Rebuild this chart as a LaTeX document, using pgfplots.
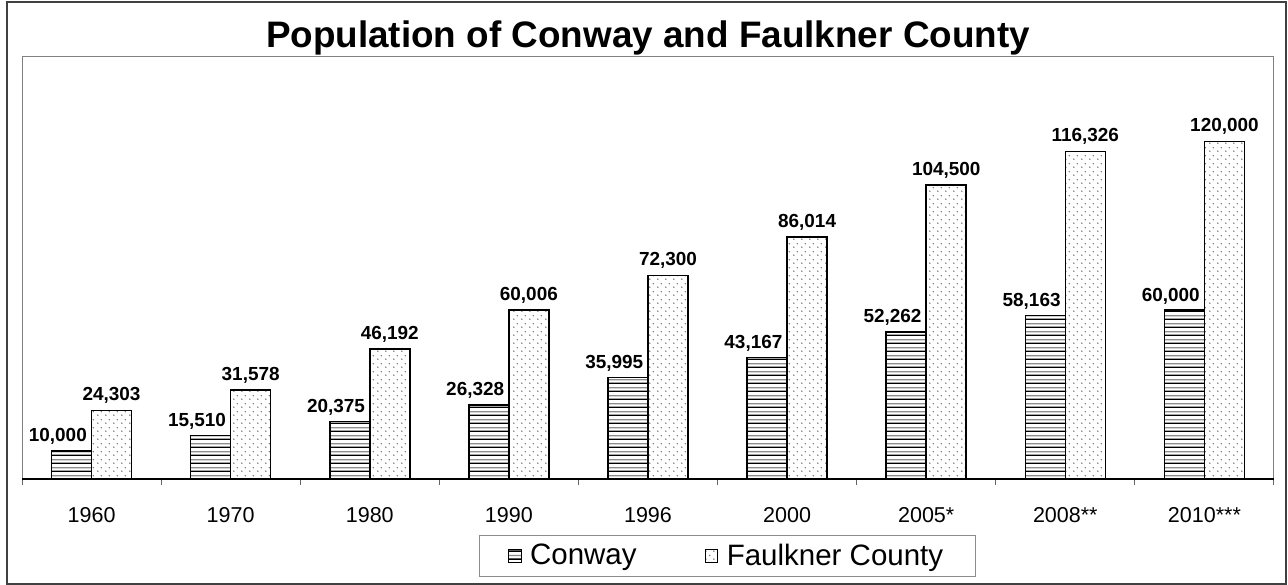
\documentclass[border=0pt]{standalone}
\usepackage{pgfplots}
\pgfplotsset{compat=1.18}
\usepackage{fontspec}
\setmainfont{Liberation Sans}
\usetikzlibrary{patterns}

\pgfdeclarepatterninherentlycolored{hstripes}{\pgfqpoint{0bp}{0bp}}{\pgfqpoint{4bp}{4bp}}{\pgfqpoint{4bp}{4bp}}{%
  \pgfsetlinewidth{0.7bp}%
  \pgfsetstrokecolor{black}%
  \pgfpathmoveto{\pgfqpoint{-0.1bp}{1bp}}\pgfpathlineto{\pgfqpoint{4.1bp}{1bp}}\pgfusepath{stroke}%
  \pgfsetstrokecolor{black!45}%
  \pgfpathmoveto{\pgfqpoint{-0.1bp}{3bp}}\pgfpathlineto{\pgfqpoint{4.1bp}{3bp}}\pgfusepath{stroke}%
}
\pgfdeclarepatterninherentlycolored{gdots}{\pgfqpoint{0bp}{0bp}}{\pgfqpoint{4bp}{4bp}}{\pgfqpoint{4bp}{4bp}}{%
  \pgfsetfillcolor{black!55}%
  \pgfpathcircle{\pgfqpoint{1bp}{1bp}}{0.45bp}%
  \pgfpathcircle{\pgfqpoint{3bp}{3bp}}{0.45bp}%
  \pgfusepath{fill}%
}

\begin{document}
\begin{tikzpicture}
\useasboundingbox (-11bp,-53bp) rectangle (633bp,239.5bp);
\draw[black!75, line width=1bp] (-7.5bp,-52.5bp) rectangle (632bp,238.5bp);
\begin{axis}[
  at={(0,0)}, anchor=south west,
  scale only axis, width=626bp, height=211bp,
  ymin=0, ymax=150000, xmin=-0.5, xmax=8.5,
  ybar=0pt, bar width=20bp,
  clip=false,
  /pgf/number format/assume math mode=true,
  xtick={0,...,8},
  xticklabels={1960,1970,1980,1990,1996,2000,2005*,2008**,2010***},
  major tick length=0pt,
  minor xtick={-0.5,0.5,...,8.5},
  minor tick length=3bp,
  minor tick style={black!60, line width=0.5bp},
  tick align=outside,
  xtick pos=lower,
  ytick=\empty,
  axis line style={draw=black!50, line width=0.5bp},
  xticklabel style={font=\fontsize{10.8}{13}\selectfont, anchor=base, yshift=-21.5bp},
  title={Population of Conway and Faulkner County},
  title style={at={(0.5,1)}, anchor=base, yshift=-1bp, font=\bfseries\fontsize{18.5}{22}\selectfont},
  legend style={at={(0.5635,-0.1825)}, anchor=center, draw=black!45, line width=0.5bp,
    font=\fontsize{14.8}{17}\selectfont, inner xsep=14bp, inner ysep=2bp},
  legend columns=2,
  legend cell align=left,
  legend image code/.code={\draw[#1, line width=0.5bp] (0bp,-3.2bp) rectangle (6.4bp,3.2bp); \path (8.5bp,0bp);},
  /tikz/every even column/.append style={column sep=32bp},
]
\addplot[fill=white, draw=black, line width=0.75bp, postaction={pattern=hstripes},
  nodes near coords={\pgfmathprintnumber[fixed,precision=0,1000 sep={,}]{\pgfplotspointmeta}},
  nodes near coords style={anchor=base east, xshift=8bp, yshift=4.5bp, inner sep=0pt, font=\bfseries\fontsize{9.5}{11}\selectfont, text=black}]
  coordinates {(0,10000) (1,15510) (2,20375) (3,26328) (4,35995) (5,43167) (6,52262) (7,58163) (8,60000)};
\addplot[fill=white, draw=black, line width=0.75bp, postaction={pattern=gdots},
  nodes near coords={\pgfmathprintnumber[fixed,precision=0,1000 sep={,}]{\pgfplotspointmeta}},
  nodes near coords style={anchor=base, yshift=5bp, inner sep=0pt, font=\bfseries\fontsize{9.5}{11}\selectfont, text=black}]
  coordinates {(0,24303) (1,31578) (2,46192) (3,60006) (4,72300) (5,86014) (6,104500) (7,116326) (8,120000)};
\legend{Conway, Faulkner County}
\draw[black, line width=0.6bp] (rel axis cs:0,0) -- (rel axis cs:1,0);
\end{axis}
\end{tikzpicture}
\end{document}
